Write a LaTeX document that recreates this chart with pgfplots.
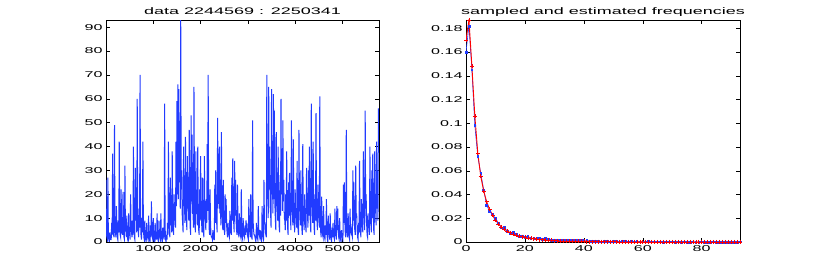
\documentclass[border=0pt]{standalone}
\usepackage{fontspec}
\setmainfont{Liberation Sans}[FakeStretch=1.9]
\usepackage{pgfplots}
\pgfplotsset{compat=1.18}
\usepackage{pgfplotstable}
\definecolor{mblue}{rgb}{0.13,0.23,1}

% time series, one value every 10 samples, read row by row
\pgfplotstableread[header=false,row sep=\\]{
26\\3\\2\\1\\27\\2\\1\\0\\4\\2\\1\\1\\8\\3\\37\\5\\3\\2\\49\\6\\
4\\2\\15\\7\\2\\1\\9\\4\\42\\8\\3\\2\\22\\5\\6\\3\\21\\9\\2\\1\\
32\\6\\5\\2\\11\\4\\1\\0\\12\\3\\3\\1\\20\\7\\4\\2\\9\\3\\40\\8\\
2\\1\\31\\9\\18\\4\\60\\12\\5\\2\\14\\6\\70\\15\\3\\1\\10\\4\\42\\7\\
2\\1\\9\\3\\1\\0\\8\\2\\2\\1\\11\\4\\1\\0\\7\\2\\17\\5\\2\\1\\
10\\3\\1\\0\\8\\2\\3\\1\\12\\4\\1\\0\\9\\3\\2\\1\\12\\3\\1\\0\\
6\\2\\2\\1\\58\\6\\1\\0\\3\\1\\8\\3\\42\\10\\4\\2\\27\\7\\10\\4\\
38\\12\\5\\3\\20\\9\\12\\6\\42\\15\\59\\20\\66\\18\\64\\25\\50\\14\\93\\22\\
30\\12\\8\\4\\40\\16\\15\\8\\44\\20\\10\\5\\36\\14\\18\\9\\47\\18\\6\\3\\
53\\17\\45\\12\\12\\6\\65\\22\\8\\4\\38\\13\\15\\7\\40\\15\\5\\3\\22\\9\\
36\\14\\9\\4\\27\\10\\4\\2\\36\\12\\12\\5\\18\\8\\41\\13\\70\\20\\6\\3\\
22\\8\\3\\2\\2\\1\\5\\2\\1\\1\\24\\8\\30\\12\\8\\4\\52\\16\\37\\14\\
40\\12\\14\\7\\46\\15\\9\\5\\26\\10\\5\\3\\20\\8\\18\\7\\4\\2\\8\\4\\
3\\2\\13\\5\\6\\3\\27\\9\\35\\12\\8\\4\\34\\11\\26\\9\\5\\3\\24\\8\\
4\\2\\12\\5\\3\\2\\22\\8\\2\\1\\10\\4\\3\\2\\7\\3\\9\\4\\8\\3\\
2\\1\\18\\6\\4\\2\\20\\7\\2\\1\\51\\9\\5\\3\\3\\2\\1\\0\\8\\3\\
2\\1\\15\\5\\3\\2\\5\\2\\1\\0\\15\\5\\2\\1\\26\\8\\8\\4\\3\\2\\
70\\18\\20\\10\\65\\22\\40\\15\\12\\6\\64\\20\\25\\12\\62\\18\\55\\16\\10\\5\\
46\\15\\18\\9\\40\\14\\7\\4\\28\\11\\60\\20\\38\\13\\51\\17\\26\\10\\9\\5\\
20\\9\\38\\14\\6\\3\\25\\11\\29\\12\\10\\5\\51\\16\\15\\7\\43\\15\\8\\4\\
22\\10\\12\\6\\34\\13\\5\\3\\47\\16\\14\\7\\30\\12\\6\\3\\41\\14\\9\\5\\
20\\9\\7\\4\\31\\12\\12\\6\\30\\11\\40\\15\\8\\4\\58\\18\\15\\8\\42\\14\\
6\\3\\20\\9\\54\\16\\9\\5\\24\\10\\12\\6\\61\\14\\4\\2\\19\\7\\3\\2\\
15\\6\\2\\1\\7\\3\\18\\5\\1\\0\\11\\4\\3\\1\\12\\4\\1\\0\\6\\2\\
8\\3\\2\\1\\14\\4\\3\\1\\15\\5\\14\\4\\2\\1\\10\\3\\1\\0\\5\\2\\
2\\1\\24\\8\\25\\9\\3\\2\\47\\10\\4\\2\\12\\5\\2\\1\\14\\5\\6\\3\\
3\\2\\30\\9\\25\\8\\5\\3\\32\\10\\12\\5\\2\\1\\8\\4\\34\\11\\4\\2\\
18\\7\\7\\4\\38\\12\\10\\5\\55\\14\\20\\8\\3\\2\\12\\6\\6\\3\\40\\13\\
9\\4\\30\\10\\37\\13\\5\\3\\38\\12\\15\\7\\42\\14\\20\\9\\56\\
}\tseries

\pgfplotstableread{
x r b
0 0.170 0.160
1 0.187 0.182
2 0.148 0.145
3 0.106 0.098
4 0.075 0.072
5 0.0555 0.058
6 0.043 0.044
7 0.034 0.031
8 0.0275 0.026
9 0.0225 0.023
10 0.0185 0.020
11 0.0153 0.016
12 0.0128 0.012
13 0.0108 0.0125
14 0.0092 0.009
15 0.0079 0.0075
16 0.0068 0.008
17 0.0059 0.0062
18 0.0051 0.005
19 0.0045 0.0045
20 0.0039 0.004
21 0.0034 0.0048
22 0.0030 0.003
23 0.0027 0.0033
24 0.0024 0.003
25 0.0021 0.0028
26 0.0019 0.0025
27 0.0017 0.0028
28 0.0015 0.002
29 0.0013 0.0016
30 0.0012 0.0015
31 0.0011 0.0013
32 0.0010 0.0016
33 0.0009 0.0015
34 0.0008 0.0017
35 0.0007 0.0015
36 0.00065 0.0012
37 0.0006 0.0014
38 0.00055 0.0011
39 0.0005 0.0013
40 0.00045 0.0014
41 0.0004 0.0013
42 0.00037 0.0009
43 0.00034 0.0004
44 0.00031 0.0003
45 0.00028 0.0005
46 0.00026 0.0002
47 0.00024 0.0004
48 0.00022 0.0003
49 0.0002 0.0002
50 0.00018 0.0003
51 0.00017 0.0004
52 0.00016 0.0002
53 0.00015 0.0003
54 0.00014 0.0004
55 0.00013 0.0002
56 0.00012 0.0003
57 0.00011 0.0001
58 0.0001 0.0003
59 0.0001 0.0002
60 0.00009 0.0002
61 0.00009 0.0001
62 0.00008 0.0003
63 0.00008 0.0002
64 0.00007 0.0002
65 0.00007 0.0001
66 0.00006 0.0001
67 0.00006 0.0
68 0.00005 0.0002
69 0.00005 0.0001
70 0.00005 0.0001
71 0.00004 0.0
72 0.00004 0.0001
73 0.00004 0.0
74 0.00004 0.0001
75 0.00003 0.0
76 0.00003 0.0
77 0.00003 0.0001
78 0.00003 0.0
79 0.00003 0.0
80 0.00003 0.0001
81 0.00002 0.0
82 0.00002 0.0
83 0.00002 0.0
84 0.00002 0.0001
85 0.00002 0.0
86 0.00002 0.0
87 0.00002 0.0
88 0.00002 0.0
89 0.00002 0.0
90 0.00002 0.0
91 0.00002 0.0
92 0.00002 0.0
93 0.00002 0.0002
}\freq

\pgfplotsset{
  mstyle/.style={
    scale only axis,
    anchor=south west,
    axis line style={line width=0.5bp},
    tick style={black, line width=0.5bp},
    tick align=inside,
    major tick length=4bp,
    tick label style={font=\fontsize{8.5}{9}\selectfont},
    title style={font=\fontsize{9.5}{10}\selectfont, at={(0.5,1)}, anchor=base},
    /pgf/number format/assume math mode=true,
    /pgf/number format/1000 sep={},
    scaled ticks=false,
  }
}

\begin{document}
\begin{tikzpicture}
\useasboundingbox (0bp,0bp) rectangle (817bp,273bp);
\begin{axis}[mstyle,
  at={(106bp,31bp)}, width=273bp, height=222bp,
  xmin=1, xmax=5773, ymin=0, ymax=93,
  xtick={1000,2000,3000,4000,5000},
  ytick={0,10,20,30,40,50,60,70,80,90},
  title={data 2244569 : 2250341}]
\addplot[mblue, line width=1bp, line join=miter, no markers] table[x expr={1+10*\coordindex}, y index=0]{\tseries};
\end{axis}
\begin{axis}[mstyle,
  at={(466bp,31bp)}, width=274bp, height=222bp,
  xmin=0, xmax=93, ymin=0, ymax=0.187,
  xtick={0,20,40,60,80},
  ytick={0,0.02,0.04,0.06,0.08,0.1,0.12,0.14,0.16,0.18},
  yticklabel style={/pgf/number format/.cd, fixed, precision=2},
  title={sampled and estimated frequencies}]
\addplot[mblue, line width=0.6bp, mark=square*, mark size=0.9bp] table[x=x, y=b]{\freq};
\addplot[red, line width=0.9bp, mark=+, mark size=2bp, mark options={line width=0.6bp}] table[x=x, y=r]{\freq};
\end{axis}
\end{tikzpicture}
\end{document}
